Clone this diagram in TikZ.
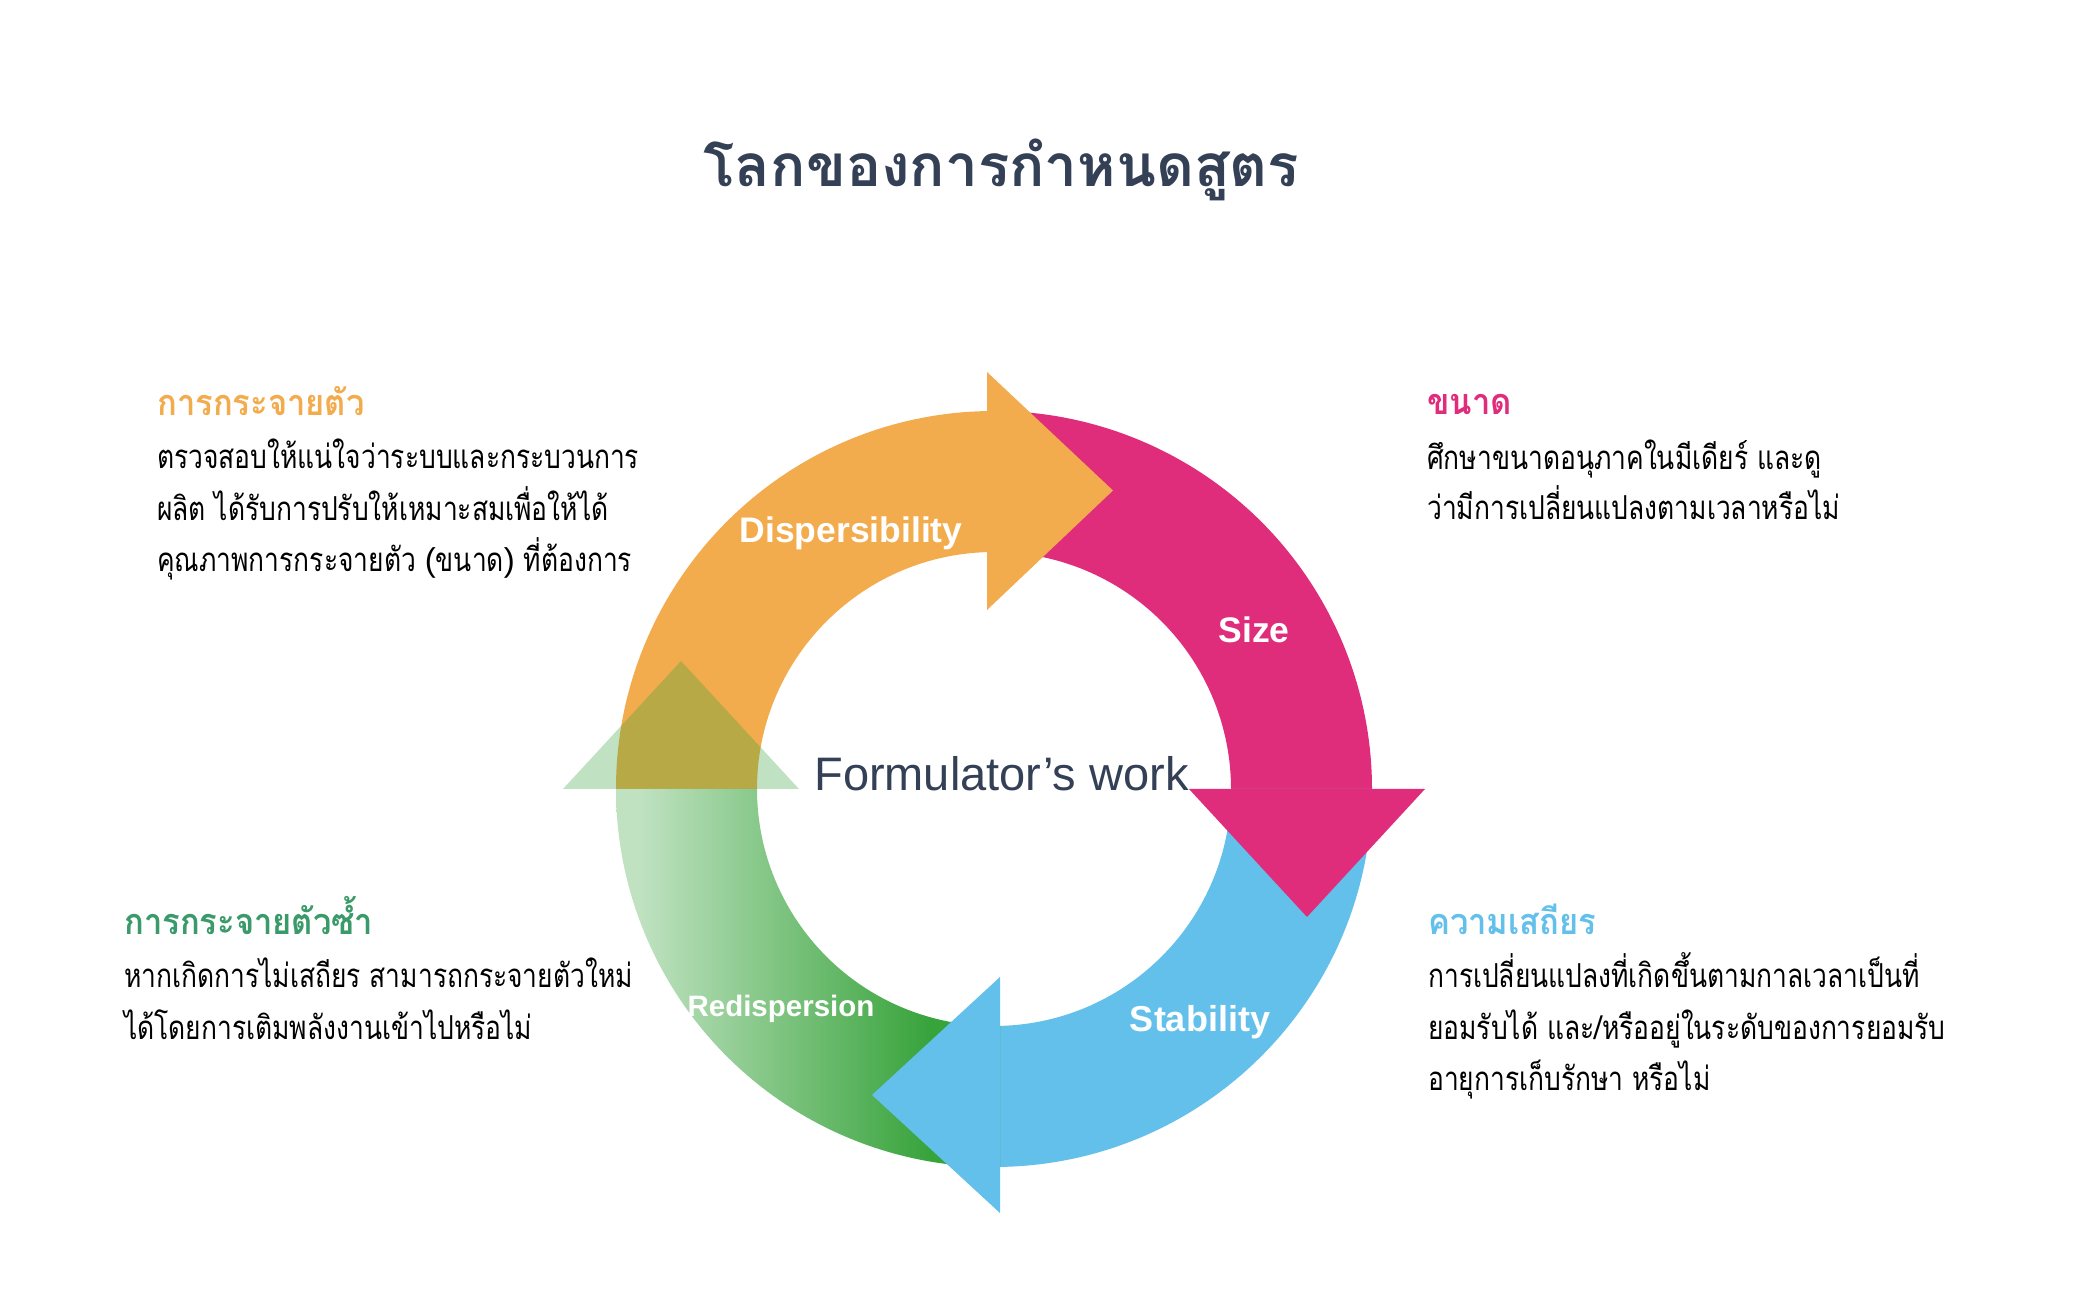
\documentclass[tikz,border=0pt]{standalone}
\usepackage{fontspec}
\setmainfont{Liberation Sans}
\newfontfamily\thai[Script=Thai]{Loma}
\newfontfamily\thaibodyfont[Script=Thai, FakeStretch=0.8]{Loma}
\newfontfamily\thaiheadfont[Script=Thai, FakeStretch=0.91]{Loma}
\usetikzlibrary{calc}
\definecolor{cOrange}{HTML}{F3AC4D}
\definecolor{cPink}{HTML}{E02D7B}
\definecolor{cBlue}{HTML}{62C0EA}
\definecolor{gDark}{HTML}{37A33B}
\definecolor{gLight}{HTML}{C0E2C1}
\definecolor{gHead}{HTML}{3A9A6A}
\definecolor{cSlate}{HTML}{344055}
\pgfdeclarehorizontalshading{gshade}{100bp}{color(0bp)=(gLight); color(28bp)=(gLight); color(66bp)=(gDark); color(100bp)=(gDark)}
\begin{document}
\begin{tikzpicture}[x=1pt,y=1pt,
  thaibody/.style={anchor=base west, inner sep=0pt, text=black, font=\thaibodyfont\fontsize{33}{35}\selectfont},
  thaihead/.style={anchor=base west, inner sep=0pt, font=\thaiheadfont\bfseries\fontsize{36}{38}\selectfont},
  ringlabel/.style={anchor=base, inner sep=0pt, text=white, font=\bfseries\fontsize{35.5}{38}\selectfont}]
\useasboundingbox (0,0) rectangle (2089,1316);
\fill[white] (0,0) rectangle (2089,1316);
\coordinate (C) at (994,527);
% bodies
\fill[cOrange] ($(C)+(180:378)$) arc[start angle=180,end angle=91.06,radius=378]
  -- ($(C)+(91.69:237)$) arc[start angle=91.69,end angle=180,radius=237] -- cycle;
\fill[cPink] ($(C)+(91.06:378)$) arc[start angle=91.06,end angle=0,radius=378]
  -- ($(C)+(0:237)$) arc[start angle=0,end angle=91.69,radius=237] -- cycle;
\fill[cBlue] ($(C)+(0:378)$) arc[start angle=0,end angle=-89.09,radius=378]
  -- ($(C)+(-88.55:237)$) arc[start angle=-88.55,end angle=0,radius=237] -- cycle;
\shade[shading=gshade] ($(C)+(-89.09:378)$) arc[start angle=-89.09,end angle=-180,radius=378]
  -- ($(C)+(-180:237)$) arc[start angle=-180,end angle=-88.55,radius=237] -- cycle;
% heads
\fill[cOrange] (987,944) -- (1113,825.5) -- (987,706) -- cycle;
\fill[cPink] (1189,527) -- (1425,527) -- (1307,399) -- cycle;
\fill[cBlue] (1000,339) -- (872,221) -- (1000,103) -- cycle;
\fill[gDark, fill opacity=0.31] (563,527) -- (799,527) -- (681,655) -- cycle;
% ring labels
\node[ringlabel] (ldisp) at (851,773) {Dispersibility};
\node[ringlabel] (lsize) at (1254,673) {Size};
\node[ringlabel, font=\bfseries\fontsize{36}{38}\selectfont] (lstab) at (1200,284) {Stability};
\node[ringlabel, font=\bfseries\fontsize{29.5}{32}\selectfont] (lredi) at (781,299) {Redispersion};
\node[anchor=base, inner sep=0pt, text=cSlate, font=\fontsize{47}{50}\selectfont] (center) at (1001.5,525.4) {Formulator’s work};
% title
\node[anchor=base, inner sep=0pt, text=cSlate, font=\thai\bfseries\fontsize{58.5}{62}\selectfont] (title) at (1001.5,1129.5) {โลกของการกำหนดสูตร};
% top left
\node[thaihead, text=cOrange] (h1) at (157,900) {การกระจายตัว};
\node[thaibody] (b11) at (157,847) {ตรวจสอบให้แน่ใจว่าระบบและกระบวนการ};
\node[thaibody] (b12) at (157,795) {ผลิต ได้รับการปรับให้เหมาะสมเพื่อให้ได้};
\node[thaibody] (b13) at (157,744) {คุณภาพการกระจายตัว {\rmfamily(}ขนาด{\rmfamily)} ที่ต้องการ};
% top right
\node[thaihead, text=cPink] (h2) at (1427,901) {ขนาด};
\node[thaibody] (b21) at (1427,846) {ศึกษาขนาดอนุภาคในมีเดียร์ และดู};
\node[thaibody] (b22) at (1427,796) {ว่ามีการเปลี่ยนแปลงตามเวลาหรือไม่};
% bottom left
\node[thaihead, text=gHead] (h3) at (124,381) {การกระจายตัวซ้ำ};
\node[thaibody] (b31) at (124,328) {หากเกิดการไม่เสถียร สามารถกระจายตัวใหม่};
\node[thaibody] (b32) at (124,276) {ได้โดยการเติมพลังงานเข้าไปหรือไม่};
% bottom right
\node[thaihead, text=cBlue] (h4) at (1428,381) {ความเสถียร};
\node[thaibody] (b41) at (1428,328) {การเปลี่ยนแปลงที่เกิดขึ้นตามกาลเวลาเป็นที่};
\node[thaibody] (b42) at (1428,276) {ยอมรับได้ และ/หรืออยู่ในระดับของการยอมรับ};
\node[thaibody] (b43) at (1428,225) {อายุการเก็บรักษา หรือไม่};
\end{tikzpicture}
\end{document}
